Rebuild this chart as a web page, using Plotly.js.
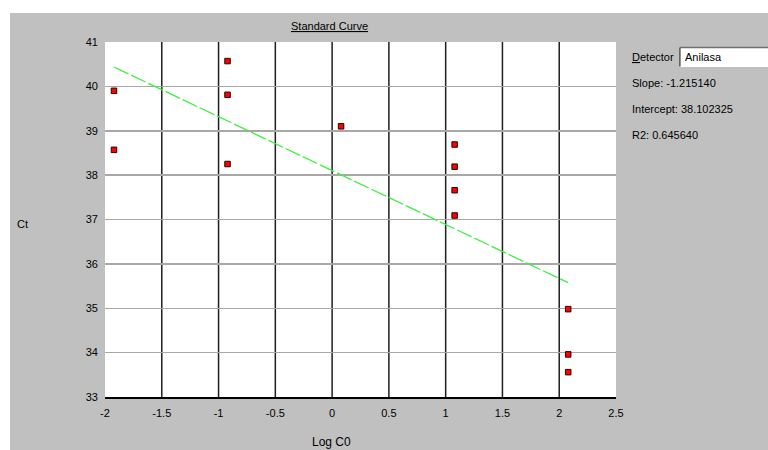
<!DOCTYPE html>
<html>
<head>
<meta charset="utf-8">
<script src="https://cdn.plot.ly/plotly-3.0.1.min.js"></script>
<style>
  html, body { margin: 0; padding: 0; background: #ffffff; width: 768px; height: 450px; overflow: hidden; }
  #chart { position: absolute; left: 10px; top: 13px; width: 758px; height: 437px; }
</style>
</head>
<body>
<div id="chart"></div>
<script>
// ---- data ----
const logC0 = [-1.921, -1.921, -0.921, -0.921, -0.921, 0.079, 1.079, 1.079, 1.079, 1.079, 2.079, 2.079, 2.079];
const ctValues = [39.90, 38.57, 40.57, 39.81, 38.25, 39.10, 38.69, 38.19, 37.66, 37.09, 34.98, 33.96, 33.56];
const slope = -1.215140;
const intercept = 38.102325;
const r2 = 0.645640;
const detectorName = "Anilasa";
const xTickVals = [-2, -1.5, -1, -0.5, 0, 0.5, 1, 1.5, 2, 2.5];
const xTickText = ["-2", "-1.5", "-1", "-0.5", "0", "0.5", "1", "1.5", "2", "2.5"];
const yTickVals = [33, 34, 35, 36, 37, 38, 39, 40, 41];
const xGridVals = [-1.5, -1, -0.5, 0, 0.5, 1, 1.5, 2];

// fit line across the data extent
const xMin = Math.min(...logC0), xMax = Math.max(...logC0);
const fitX = [xMin, xMax];
const fitY = fitX.map(v => intercept + slope * v);

const FONT = "Liberation Sans, Arial, sans-serif";

const traces = [
  {
    x: fitX, y: fitY, mode: "lines", type: "scatter",
    line: { color: "#3ff03f", width: 1.3, dash: "16px,3px" },
    hoverinfo: "skip", showlegend: false
  },
  {
    x: logC0, y: ctValues, mode: "markers", type: "scatter",
    marker: { symbol: "square", size: 5.5, color: "#ff0000", line: { color: "#2a0000", width: 1 } },
    showlegend: false
  }
];

const shapes = xGridVals.map(v => ({
  type: "line", xref: "x", yref: "paper", x0: v, x1: v, y0: 0, y1: 1,
  line: { color: "#1e1e1e", width: 1.5 }, layer: "below"
}));
// detector text box (sunken field)
shapes.push({ type: "rect", xref: "paper", yref: "paper", x0: 1.125, x1: 1.31, y0: 0.931, y1: 0.9845,
  fillcolor: "#ffffff", line: { color: "#ffffff", width: 1 }, layer: "above" });
shapes.push({ type: "line", xref: "paper", yref: "paper", x0: 1.125, x1: 1.31, y0: 0.9845, y1: 0.9845,
  line: { color: "#707070", width: 1.5 }, layer: "above" });
shapes.push({ type: "line", xref: "paper", yref: "paper", x0: 1.125, x1: 1.125, y0: 0.931, y1: 0.9845,
  line: { color: "#505050", width: 1.5 }, layer: "above" });

const annFont = { family: FONT, size: 11, color: "#000000" };
const annotations = [
  { text: "<u>Standard Curve</u>", xref: "paper", yref: "paper", x: 0.44, y: 1.045,
    xanchor: "center", yanchor: "middle", showarrow: false, font: annFont },
  { text: "Ct", xref: "paper", yref: "paper", x: -0.162, y: 0.487,
    xanchor: "center", yanchor: "middle", showarrow: false, font: annFont },
  { text: "Log C0", xref: "paper", yref: "paper", x: 0.444, y: -0.126,
    xanchor: "center", yanchor: "middle", showarrow: false, font: { family: FONT, size: 12, color: "#000000" } },
  { text: "<u>D</u>etector", xref: "paper", yref: "paper", x: 1.027, y: 0.958,
    xanchor: "left", yanchor: "middle", showarrow: false, font: annFont },
  { text: detectorName, xref: "paper", yref: "paper", x: 1.131, y: 0.957,
    xanchor: "left", yanchor: "middle", showarrow: false, font: annFont },
  { text: "Slope: " + slope.toFixed(6), xref: "paper", yref: "paper", x: 1.027, y: 0.8845,
    xanchor: "left", yanchor: "middle", showarrow: false, font: annFont },
  { text: "Intercept: " + intercept.toFixed(6), xref: "paper", yref: "paper", x: 1.027, y: 0.811,
    xanchor: "left", yanchor: "middle", showarrow: false, font: annFont },
  { text: "R2: " + r2.toFixed(6), xref: "paper", yref: "paper", x: 1.027, y: 0.738,
    xanchor: "left", yanchor: "middle", showarrow: false, font: annFont }
];

const layout = {
  width: 758, height: 437,
  margin: { l: 95, r: 152, t: 29, b: 53, pad: 0 },
  paper_bgcolor: "#c0c0c0",
  plot_bgcolor: "#ffffff",
  font: { family: FONT, size: 11, color: "#000000" },
  showlegend: false,
  xaxis: {
    range: [-2, 2.5], tickmode: "array", tickvals: xTickVals, ticktext: xTickText,
    showgrid: false, zeroline: false, showline: true, linecolor: "#000000", linewidth: 2,
    ticks: "", ticklabelstandoff: 5, tickfont: { family: FONT, size: 11, color: "#000000" },
    fixedrange: true
  },
  yaxis: {
    range: [33, 41], tickmode: "array", tickvals: yTickVals,
    showgrid: true, gridcolor: "#a8a8a8", gridwidth: 1.5, zeroline: false, showline: false,
    ticks: "", ticklabelstandoff: 6, tickfont: { family: FONT, size: 11, color: "#000000" },
    fixedrange: true
  },
  shapes: shapes,
  annotations: annotations
};

Plotly.newPlot("chart", traces, layout, { displayModeBar: false, staticPlot: true });
</script>
</body>
</html>
